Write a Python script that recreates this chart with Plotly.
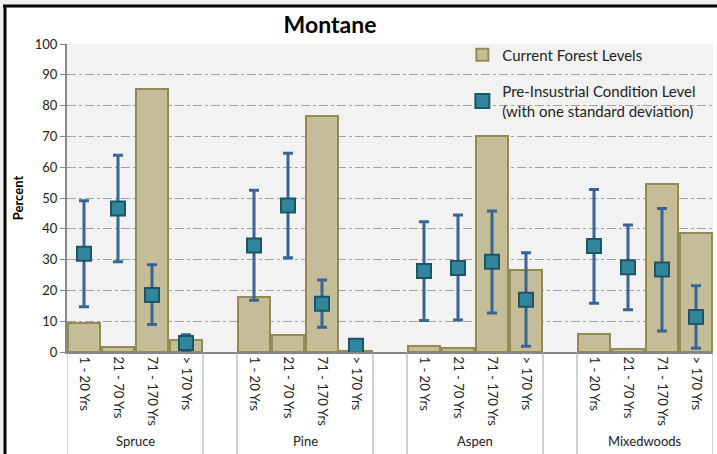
import plotly.graph_objects as go

groups = ["Spruce", "Pine", "Aspen", "Mixedwoods"]
age_classes = ["1 - 20 Yrs", "21 - 70 Yrs", "71 - 170 Yrs", "> 170 Yrs"]

current_levels = [
    9.3, 1.5, 85.4, 4.0,     # Spruce
    17.9, 5.6, 76.5, 0.3,    # Pine
    2.0, 1.4, 70.2, 26.5,    # Aspen
    5.7, 0.9, 54.7, 38.8,    # Mixedwoods
]
pre_ind_mean = [
    31.9, 46.6, 18.5, 2.9,
    34.6, 47.6, 15.7, 2.0,
    26.3, 27.3, 29.3, 17.0,
    34.4, 27.5, 26.8, 11.4,
]
pre_ind_upper = [
    49.1, 63.9, 28.3, 5.6,
    52.5, 64.5, 23.4, 2.0,
    42.3, 44.5, 45.8, 32.2,
    52.8, 41.2, 46.6, 21.5,
]
pre_ind_lower = [
    14.7, 29.3, 8.9, 0.0,
    16.8, 30.6, 8.0, 2.0,
    10.2, 10.4, 12.7, 1.9,
    15.8, 13.7, 6.8, 1.2,
]

# x positions: 4 slots per group plus one empty slot between groups
xpos = []
for gi in range(len(groups)):
    for ai in range(len(age_classes)):
        xpos.append(gi * 5 + ai)
tick_text = age_classes * len(groups)

err_plus = [u - m for u, m in zip(pre_ind_upper, pre_ind_mean)]
err_minus = [m - l for m, l in zip(pre_ind_mean, pre_ind_lower)]

FONT = "Lato, 'Noto Sans', sans-serif"

fig = go.Figure()
fig.add_trace(go.Bar(
    x=xpos, y=current_levels, width=0.92,
    name="Current Forest Levels",
    marker=dict(color="#c4bd97", line=dict(color="#948a54", width=2)),
    legendgroup="a",
))
fig.add_trace(go.Scatter(
    x=xpos, y=pre_ind_mean, mode="markers",
    name="Pre-Insustrial Condition Level<br>(with one standard deviation)",
    marker=dict(symbol="square", size=14, color="#31859c",
                line=dict(color="#1d5566", width=2)),
    error_y=dict(type="data", symmetric=False, array=err_plus, arrayminus=err_minus,
                 color="#386496", thickness=3, width=5),
    legendgroup="b",
))

L, R, T, B = 67, 4, 44, 102
W, H = 717, 454
pw, ph = W - L - R, H - T - B

def px_x(p):
    return (p - L) / pw

def px_y(p):
    return (H - B - p) / ph

shapes = []
# legend backdrop hiding gridlines (between gridlines and traces)
shapes.append(dict(type="rect", xref="paper", yref="paper", x0=px_x(473), x1=px_x(709), y0=px_y(125), y1=px_y(47),
                   fillcolor="#f2f2f2", line=dict(width=0), layer="between"))
# frame: gray strip at top/left and black lines
shapes.append(dict(type="rect", xref="paper", yref="paper", x0=px_x(0), x1=px_x(W), y0=px_y(0), y1=px_y(5),
                   fillcolor="#f0f0f0", line=dict(width=0), layer="above"))
shapes.append(dict(type="rect", xref="paper", yref="paper", x0=px_x(0), x1=px_x(3.5), y0=px_y(0), y1=px_y(H),
                   fillcolor="#f0f0f0", line=dict(width=0), layer="above"))
shapes.append(dict(type="line", xref="paper", yref="paper", x0=px_x(3), x1=px_x(W), y0=px_y(6), y1=px_y(6),
                   line=dict(color="black", width=3)))
shapes.append(dict(type="line", xref="paper", yref="paper", x0=px_x(5), x1=px_x(5), y0=px_y(5), y1=px_y(H),
                   line=dict(color="black", width=3)))
# group separators under the axis
for gi in range(len(groups)):
    for xv in (gi * 5 - 0.5, gi * 5 + 3.5):
        shapes.append(dict(type="line", xref="x", yref="paper", x0=xv, x1=xv, y0=0, y1=px_y(H),
                           line=dict(color="#a6a6a6", width=1)))

annotations = []
for gi, g in enumerate(groups):
    annotations.append(dict(x=gi * 5 + 1.5, xref="x", y=px_y(441), yref="paper", text=g,
                            showarrow=False, font=dict(family=FONT, size=13, color="#222"),
                            xanchor="center", yanchor="middle"))

fig.update_layout(
    width=W, height=H,
    margin=dict(l=L, r=R, t=T, b=B, autoexpand=False),
    paper_bgcolor="white", plot_bgcolor="#f2f2f2",
    font=dict(family=FONT, color="#222"),
    title=dict(text="<b>Montane</b>", x=330 / W, xanchor="center", y=1 - 25 / H, yanchor="middle",
               font=dict(family=FONT, size=23, color="black")),
    showlegend=True,
    legend=dict(x=0.612, y=1.018, xanchor="left", yanchor="top", bgcolor="rgba(0,0,0,0)",
                font=dict(family=FONT, size=15, color="#222"),
                traceorder="grouped", tracegroupgap=14, itemwidth=30),
    shapes=shapes, annotations=annotations,
    bargap=0,
)
fig.update_xaxes(
    range=[-0.5, 18.5], tickmode="array", tickvals=xpos, ticktext=tick_text,
    tickangle=90, tickfont=dict(family=FONT, size=13, color="#222"),
    showline=True, linecolor="#878787", linewidth=2, showgrid=False, ticks="",
    zeroline=False,
)
fig.update_yaxes(
    range=[0, 100], dtick=10, showline=True, linecolor="#878787", linewidth=2,
    ticks="outside", ticklen=5, tickcolor="#878787",
    tickfont=dict(family=FONT, size=13, color="#222"),
    showgrid=True, gridcolor="#a0a0a0", griddash="dashdot", gridwidth=1,
    zeroline=False,
    title=dict(text="<b>Percent</b>", font=dict(family=FONT, size=13, color="black"), standoff=8),
)

fig.write_html("out.html", config={"displayModeBar": False},
               post_script="document.body.style.margin='0';")
